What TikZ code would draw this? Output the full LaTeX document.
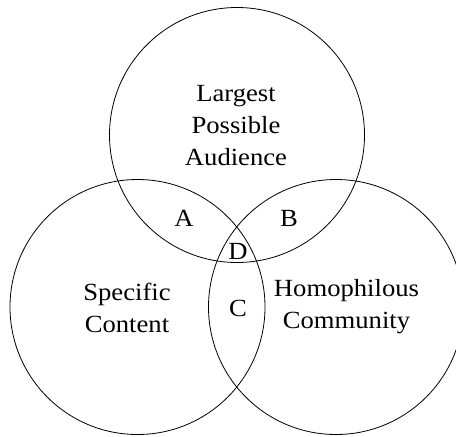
\documentclass[tikz,border=0pt]{standalone}
\usepackage{fontspec}
\setmainfont{Liberation Serif}[FakeStretch=1.08]
\begin{document}
\begin{tikzpicture}[x=0.75pt,y=0.75pt,yscale=-1,xscale=1]
%set diagram area: 456 x 436
\clip (0,0) rectangle (456,436);

%Shape: Circle [id:audience]
\draw  [line width=0.6]  (237,135) circle [x radius= 127.5, y radius= 127.5]   ;
%Shape: Circle [id:content]
\draw  [line width=0.6]  (137.5,307) circle [x radius= 127.5, y radius= 127.5]   ;
%Shape: Circle [id:community]
\draw  [line width=0.6]  (336,307) circle [x radius= 127.5, y radius= 127.5]   ;

% Text Node
\draw (236,126) node [inner sep=0.75pt, font=\fontsize{18.5}{24}\selectfont] [align=center] (lpa) {Largest\\Possible\\Audience};
% Text Node
\draw (127,308) node [inner sep=0.75pt, font=\fontsize{18.5}{24}\selectfont] [align=center] (sc) {Specific\\Content};
% Text Node
\draw (346.5,307) node [inner sep=0.75pt, font=\fontsize{18.5}{24}\selectfont] [align=center] (hc) {Homophilous\\Community};
% Text Node
\draw (184,218) node [inner sep=0.75pt, font=\fontsize{18.5}{24}\selectfont] (a) {A};
% Text Node
\draw (289,218) node [inner sep=0.75pt, font=\fontsize{18.5}{24}\selectfont] (b) {B};
% Text Node
\draw (238,251.5) node [inner sep=0.75pt, font=\fontsize{18.5}{24}\selectfont] (d) {D};
% Text Node
\draw (238,308) node [inner sep=0.75pt, font=\fontsize{18.5}{24}\selectfont] (c) {C};

\end{tikzpicture}
\end{document}
